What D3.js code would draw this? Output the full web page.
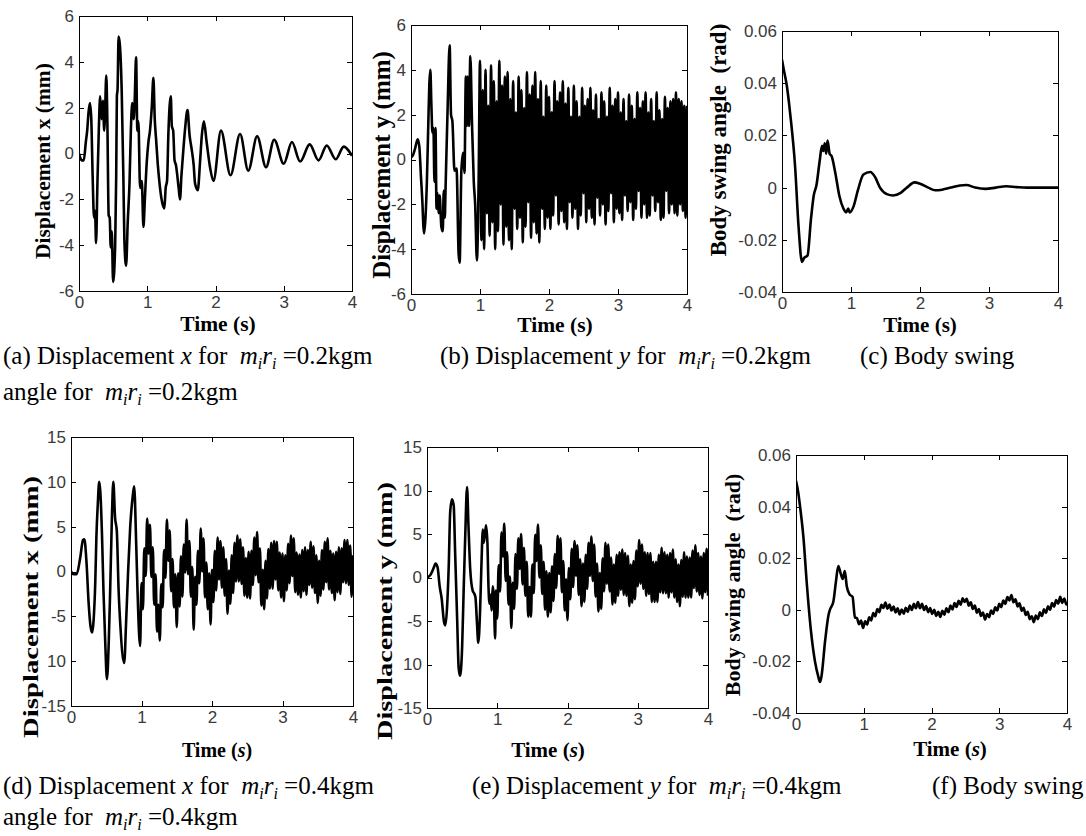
<!DOCTYPE html>
<html>
<head>
<meta charset="utf-8">
<script src="https://cdn.jsdelivr.net/npm/d3@7"></script>
<style>
  body { margin: 0; background: #fff; }
  svg text { white-space: pre; }
</style>
</head>
<body>
<svg id="fig" width="1086" height="836"></svg>
<script>
'use strict';

// ---- axis ticks / labels ----
const timeTicks = [0, 1, 2, 3, 4];
const dispTicks6 = [-6, -4, -2, 0, 2, 4, 6];
const dispLabels6 = ['-6', '-4', '-2', '0', '2', '4', '6'];
const dispTicks15 = [-15, -10, -5, 0, 5, 10, 15];
const dispLabels15 = ['-15', '10', '-5', '0', '5', '10', '15']; // "-10" prints clipped in the original
const angleTicks = [-0.04, -0.02, 0, 0.02, 0.04, 0.06];
const angleLabels = ['-0.04', '-0.02', '0', '0.02', '0.04', '0.06'];

// ---- series, [time s, value] ----
const dispX02 = [[0,0],[0.04,-0.3],[0.07,-0.3],[0.10,0.5],[0.12,1.0],[0.14,1.8],[0.16,2.2],[0.18,1.5],[0.20,-1.0],[0.22,-2.8],[0.235,-2.5],[0.25,-3.9],[0.27,-1.3],[0.29,1.0],[0.31,2.5],[0.33,1.5],[0.35,2.3],[0.37,1.0],[0.38,1.6],[0.40,3.4],[0.415,1.5],[0.435,-2.7],[0.45,-2.8],[0.465,-4.1],[0.48,-3.4],[0.50,-5.6],[0.53,-4.0],[0.545,-1.0],[0.555,2.5],[0.565,2.8],[0.58,5.1],[0.60,4.7],[0.626,2.7],[0.65,-1.0],[0.665,-3.8],[0.69,-4.9],[0.714,-3.0],[0.74,-1.3],[0.76,1.0],[0.78,2.2],[0.80,1.5],[0.817,2.4],[0.836,4.2],[0.855,1.0],[0.87,1.4],[0.895,-1.5],[0.92,-1.2],[0.944,-3.2],[0.965,-2.0],[0.99,-0.5],[1.017,0.5],[1.04,1.0],[1.066,2.0],[1.09,3.3],[1.11,1.5],[1.13,0.6],[1.155,-0.5],[1.18,-1.3],[1.21,-2.0],[1.25,-2.4],[1.27,-1.5],[1.29,-1.2],[1.31,0.9],[1.345,2.5],[1.36,1.2],[1.38,1.0],[1.40,-0.3],[1.42,-0.5],[1.46,-1.5],[1.48,-2.0],[1.50,-1.0],[1.52,-0.2],[1.555,1.1],[1.59,1.9],[1.62,0.8],[1.65,0.2],[1.68,-0.5],[1.70,-1.3],[1.74,-1.6],[1.775,-0.3],[1.80,0.8],[1.83,1.4],[1.87,0.5],[1.92,-0.6],[1.97,-1.2],[2.08,1.0],[2.22,-0.95],[2.36,0.85],[2.48,-0.75],[2.61,0.75],[2.74,-0.6],[2.86,0.6],[3.0,-0.45],[3.12,0.5],[3.24,-0.35],[3.38,0.4],[3.51,-0.3],[3.63,0.35],[3.76,-0.25],[3.88,0.3],[4.0,-0.1]];

const dispY02 = [[0,0.1],[0.03,0.2],[0.06,0.5],[0.097,0.9],[0.12,0.6],[0.145,-0.8],[0.165,-1.9],[0.18,-3.0],[0.19,-3.3],[0.21,-2.6],[0.23,-1.0],[0.25,1.5],[0.265,3.3],[0.28,4.0],[0.295,2.5],[0.31,1.2],[0.325,1.4],[0.34,-1.0],[0.355,1.4],[0.37,-2.2],[0.385,-1.5],[0.40,-2.4],[0.415,-1.6],[0.44,-3.0],[0.46,-3.2],[0.475,-1.4],[0.49,-2.6],[0.50,-1.4],[0.53,2.2],[0.56,5.1],[0.58,2.0],[0.60,1.7],[0.63,-0.5],[0.66,-0.4],[0.69,-4.2],[0.705,-4.6],[0.73,-0.5],[0.755,0.3],[0.775,-0.6],[0.795,3.7],[0.81,1.5],[0.82,3.7],[0.84,1.5],[0.86,4.6],[0.885,1.5],[0.91,-1.0],[0.93,-2.0],[0.955,-4.5],[0.98,-1.0],
  [1.00,4.4],[1.02,-3.6],[1.04,3.1],[1.06,-4.0],[1.08,4.0],[1.10,-2.4],[1.12,2.4],[1.14,-3.4],[1.16,4.2],[1.18,-2.8],[1.20,3.5],[1.22,-4.0],[1.24,2.6],[1.26,-3.2],[1.28,4.4],[1.30,-2.0],[1.32,3.3],[1.34,-3.8],[1.36,3.7],[1.38,-3.0],[1.40,3.9],[1.42,-3.6],[1.44,2.7],[1.46,-4.0],[1.48,3.5],[1.50,-2.2],[1.52,2.1],[1.54,-3.1],[1.56,3.7],[1.58,-2.6],[1.60,3.1],[1.62,-3.7],[1.64,2.3],[1.66,-3.0],[1.68,3.9],[1.70,-1.9],[1.72,2.9],[1.74,-3.5],[1.76,3.3],[1.78,-2.8],[1.80,3.9],[1.82,-3.3],[1.84,2.7],[1.86,-3.7],[1.88,3.5],[1.90,-2.2],[1.92,1.9],[1.94,-3.1],[1.96,3.3],[1.98,-2.6],
  [2.00,2.8],[2.02,-3.1],[2.04,2.1],[2.06,-2.5],[2.08,3.5],[2.10,-1.6],[2.12,2.6],[2.14,-2.9],[2.16,3.0],[2.18,-2.3],[2.20,3.5],[2.22,-2.8],[2.24,2.5],[2.26,-3.1],[2.28,3.2],[2.30,-1.9],[2.32,1.9],[2.34,-2.6],[2.36,3.3],[2.38,-2.2],[2.40,2.6],[2.42,-3.1],[2.44,1.9],[2.46,-2.5],[2.48,3.2],[2.50,-1.5],[2.52,2.4],[2.54,-2.8],[2.56,2.7],[2.58,-2.2],[2.60,3.2],[2.62,-2.6],[2.64,2.2],[2.66,-2.9],[2.68,2.9],[2.70,-1.7],[2.72,1.8],[2.74,-2.5],[2.76,3.0],[2.78,-2.0],[2.80,2.6],[2.82,-2.9],[2.84,1.9],[2.86,-2.3],[2.88,3.2],[2.90,-1.5],[2.92,2.4],[2.94,-2.8],[2.96,2.7],[2.98,-2.2],
  [3.00,3.0],[3.02,-2.4],[3.04,2.1],[3.06,-2.7],[3.08,2.7],[3.10,-1.6],[3.12,1.7],[3.14,-2.3],[3.16,2.9],[3.18,-1.9],[3.20,2.4],[3.22,-2.7],[3.24,1.8],[3.26,-2.2],[3.28,3.0],[3.30,-1.4],[3.32,2.3],[3.34,-2.6],[3.36,2.6],[3.38,-2.0],[3.40,3.0],[3.42,-2.6],[3.44,2.1],[3.46,-2.5],[3.48,2.7],[3.50,-1.6],[3.52,1.7],[3.54,-2.3],[3.56,3.0],[3.58,-1.9],[3.60,2.2],[3.62,-2.7],[3.64,1.8],[3.66,-2.6],[3.68,2.8],[3.70,-1.4],[3.72,2.3],[3.74,-2.4],[3.76,2.6],[3.78,-2.0],[3.80,2.7],[3.82,-2.4],[3.84,3.0],[3.86,-2.5],[3.88,2.7],[3.90,-2.0],[3.92,2.6],[3.94,-2.3],[3.96,2.4],[3.98,-2.6],[4.00,2.4]];

const angle02 = [[0,0.049],[0.02,0.046],[0.07,0.039],[0.12,0.028],[0.19,0.008],[0.24,-0.015],[0.29,-0.0285],[0.32,-0.027],[0.37,-0.026],[0.42,-0.012],[0.46,-0.003],[0.50,0.001],[0.545,0.010],[0.58,0.016],[0.60,0.014],[0.62,0.017],[0.64,0.013],[0.66,0.018],[0.69,0.013],[0.72,0.012],[0.77,0.006],[0.83,-0.003],[0.89,-0.008],[0.93,-0.0095],[0.96,-0.008],[0.98,-0.0095],[1.04,-0.007],[1.10,-0.001],[1.18,0.005],[1.28,0.006],[1.35,0.004],[1.42,0.0],[1.52,-0.0025],[1.61,-0.003],[1.72,-0.002],[1.81,0.0],[1.92,0.002],[2.0,0.0015],[2.12,0.0],[2.22,-0.001],[2.32,-0.0008],[2.45,0.0],[2.58,0.0008],[2.67,0.001],[2.80,0.0],[2.95,-0.0005],[3.10,0.0],[3.25,0.0005],[3.40,0.0002],[3.55,0.0],[4.0,0.0]];

const dispX04 = [[0,0],[0.04,-0.3],[0.08,-0.3],[0.13,1.5],[0.17,3.5],[0.19,3.6],[0.22,1.0],[0.25,-3.5],[0.275,-6.0],[0.30,-6.8],[0.32,-5.5],[0.345,-1.0],[0.36,3.8],[0.38,7.5],[0.40,10.0],[0.415,9.0],[0.44,4.0],[0.46,-2.0],[0.486,-8.0],[0.51,-12.0],[0.535,-8.0],[0.556,-2.0],[0.58,6.0],[0.60,10.0],[0.625,6.0],[0.65,4.5],[0.675,-2.0],[0.70,-6.0],[0.755,-10.2],[0.78,-6.0],[0.81,0.0],[0.84,5.0],[0.877,8.5],[0.896,9.5],[0.925,3.0],[0.943,-2.0],[0.98,-8.3],
  [1.00,-1.3],[1.02,-4.2],[1.04,2.6],[1.06,-0.5],[1.08,5.9],[1.10,2.0],[1.12,5.2],[1.14,-0.6],[1.16,2.7],[1.18,-3.7],[1.20,-0.3],[1.22,-6.7],[1.24,-3.7],[1.26,-7.7],[1.28,-1.4],[1.30,-4.0],[1.32,2.4],[1.34,-0.7],[1.36,5.8],[1.38,1.2],[1.40,4.6],[1.42,-2.2],[1.44,1.4],[1.46,-4.0],[1.48,-0.3],[1.50,-6.2],[1.52,-0.2],[1.54,-3.9],[1.56,1.7],[1.58,-2.8],[1.60,3.0],[1.62,-0.1],[1.64,5.8],[1.66,-0.3],[1.68,3.4],[1.70,-2.8],[1.72,0.5],[1.74,-6.5],[1.76,-0.6],[1.78,-3.7],[1.80,2.3],[1.82,-1.3],[1.84,4.8],[1.86,0.0],[1.88,3.7],[1.90,-2.9],[1.92,1.0],[1.94,-4.2],[1.96,-0.2],[1.98,-5.9],
  [2.00,0.2],[2.02,-3.4],[2.04,2.3],[2.06,-2.1],[2.08,3.8],[2.10,-0.9],[2.12,3.4],[2.14,-1.8],[2.16,2.7],[2.18,-2.7],[2.20,1.4],[2.22,-4.7],[2.24,0.1],[2.26,-3.6],[2.28,1.8],[2.30,-2.4],[2.32,3.2],[2.34,-1.1],[2.36,4.0],[2.38,-1.1],[2.40,3.6],[2.42,-1.4],[2.44,2.7],[2.46,-2.7],[2.48,1.5],[2.50,-2.9],[2.52,2.2],[2.54,-3.0],[2.56,2.3],[2.58,-1.5],[2.60,3.8],[2.62,-0.4],[2.64,4.4],[2.66,-1.2],[2.68,2.6],[2.70,-3.8],[2.72,0.2],[2.74,-4.2],[2.76,1.2],[2.78,-3.0],[2.80,2.5],[2.82,-1.9],[2.84,3.2],[2.86,-1.9],[2.88,3.4],[2.90,-0.9],[2.92,3.3],[2.94,-2.1],[2.96,2.1],[2.98,-2.9],
  [3.00,2.0],[3.02,-3.3],[3.04,1.8],[3.06,-2.1],[3.08,3.1],[3.10,-1.3],[3.12,4.0],[3.14,-0.5],[3.16,3.7],[3.18,-2.3],[3.20,2.1],[3.22,-2.6],[3.24,1.9],[3.26,-2.9],[3.28,2.4],[3.30,-2.2],[3.32,2.7],[3.34,-2.6],[3.36,2.4],[3.38,-1.5],[3.40,3.3],[3.42,-1.8],[3.44,2.8],[3.46,-2.4],[3.48,1.8],[3.50,-3.5],[3.52,1.2],[3.54,-2.7],[3.56,2.4],[3.58,-2.0],[3.60,3.3],[3.62,-1.2],[3.64,3.7],[3.66,-2.0],[3.68,2.3],[3.70,-2.4],[3.72,2.0],[3.74,-3.2],[3.76,2.2],[3.78,-2.3],[3.80,2.7],[3.82,-2.5],[3.84,2.6],[3.86,-1.2],[3.88,3.5],[3.90,-1.3],[3.92,3.5],[3.94,-1.5],[3.96,2.9],[3.98,-2.8],[4.00,1.8]];

const dispY04 = [[0,0],[0.05,0.3],[0.10,1.2],[0.12,1.6],[0.15,1.2],[0.18,-1.0],[0.21,-2.5],[0.24,-5.0],[0.26,-5.5],[0.285,-3.5],[0.31,1.5],[0.33,7.5],[0.355,9.0],[0.38,8.3],[0.40,3.0],[0.43,-5.0],[0.45,-10.3],[0.47,-11.3],[0.50,-8.0],[0.52,-2.0],[0.545,5.0],[0.57,10.4],[0.59,6.0],[0.615,1.0],[0.65,-1.5],[0.67,-1.8],[0.69,-2.3],[0.71,-5.0],[0.73,-7.5],[0.755,-4.0],[0.775,1.5],[0.795,5.5],[0.81,4.0],[0.84,6.0],[0.86,4.0],[0.875,-1.0],[0.89,-3.0],[0.905,-2.0],[0.92,-3.8],[0.935,-1.0],[0.95,-2.0],[0.97,-7.0],
  [0.98,-1.5],[1.00,-4.7],[1.02,1.4],[1.04,-1.6],[1.06,5.2],[1.08,2.4],[1.10,6.2],[1.12,-0.4],[1.14,2.9],[1.16,-3.1],[1.18,0.1],[1.20,-5.8],[1.22,-0.6],[1.24,-3.6],[1.26,2.7],[1.28,-1.3],[1.30,4.5],[1.32,1.0],[1.34,5.0],[1.36,-0.8],[1.38,3.4],[1.40,-2.1],[1.42,1.8],[1.44,-4.5],[1.46,-1.1],[1.48,-4.5],[1.50,1.5],[1.52,-1.8],[1.54,4.9],[1.56,1.9],[1.58,6.1],[1.60,0.0],[1.62,3.7],[1.64,-1.9],[1.66,1.8],[1.68,-3.7],[1.70,0.7],[1.72,-4.5],[1.74,0.5],[1.76,-4.0],[1.78,1.3],[1.80,-2.7],[1.82,2.7],[1.84,-1.2],[1.86,4.8],[1.88,0.4],[1.90,4.5],[1.92,-1.7],[1.94,1.9],[1.96,-3.8],[1.98,-0.2],
  [2.00,-4.9],[2.02,1.1],[2.04,-2.5],[2.06,3.3],[2.08,-1.1],[2.10,4.2],[2.12,0.2],[2.14,3.7],[2.16,-2.0],[2.18,2.1],[2.20,-3.3],[2.22,1.6],[2.24,-2.8],[2.26,2.6],[2.28,-1.3],[2.30,4.0],[2.32,0.2],[2.34,4.7],[2.36,-0.4],[2.38,3.8],[2.40,-2.2],[2.42,1.6],[2.44,-3.9],[2.46,0.5],[2.48,-3.6],[2.50,2.2],[2.52,-1.6],[2.54,4.0],[2.56,-0.7],[2.58,3.8],[2.60,-1.6],[2.62,2.3],[2.64,-3.1],[2.66,1.5],[2.68,-2.9],[2.70,2.6],[2.72,-2.1],[2.74,2.9],[2.76,-1.4],[2.78,3.2],[2.80,-2.0],[2.82,2.8],[2.84,-2.1],[2.86,2.5],[2.88,-3.3],[2.90,1.5],[2.92,-2.9],[2.94,1.9],[2.96,-2.5],[2.98,3.1],
  [3.00,-1.0],[3.02,4.3],[3.04,-0.7],[3.06,3.8],[3.08,-1.3],[3.10,2.9],[3.12,-2.1],[3.14,2.8],[3.16,-1.9],[3.18,2.8],[3.20,-2.8],[3.22,1.8],[3.24,-2.8],[3.26,1.8],[3.28,-2.8],[3.30,2.6],[3.32,-1.7],[3.34,3.4],[3.36,-1.8],[3.38,2.9],[3.40,-1.8],[3.42,2.6],[3.44,-2.3],[3.46,2.8],[3.48,-1.7],[3.50,3.2],[3.52,-2.3],[3.54,2.1],[3.56,-2.8],[3.58,1.5],[3.60,-3.3],[3.62,2.0],[3.64,-2.2],[3.66,2.9],[3.68,-2.3],[3.70,2.4],[3.72,-2.3],[3.74,2.3],[3.76,-2.3],[3.78,3.1],[3.80,-1.2],[3.82,3.7],[3.84,-1.6],[3.86,2.8],[3.88,-2.0],[3.90,2.4],[3.92,-2.4],[3.94,2.8],[3.96,-1.7],[3.98,3.3],[4.00,-2.1]];

const angle04 = [[0,0.050],[0.03,0.046],[0.06,0.040],[0.11,0.028],[0.16,0.010],[0.22,-0.008],[0.28,-0.020],[0.33,-0.026],[0.354,-0.028],[0.375,-0.026],[0.43,-0.012],[0.48,-0.002],[0.50,0.000],[0.55,0.003],[0.59,0.011],[0.624,0.017],[0.66,0.014],[0.69,0.012],[0.72,0.015],[0.75,0.009],[0.79,0.006],[0.835,0.005],[0.87,-0.003],[0.90,-0.0032],[0.93,-0.0056],[0.96,-0.0042],[0.99,-0.0070],[1.02,-0.0045],[1.05,-0.0057],[1.08,-0.0029],[1.11,-0.0041],[1.14,-0.0013],[1.17,-0.0025],[1.20,0.0003],[1.23,-0.0009],[1.26,0.0019],[1.29,0.0007],[1.32,0.0028],[1.35,0.0004],[1.38,0.0020],[1.41,-0.0003],[1.44,0.0013],[1.47,-0.0010],[1.50,0.0006],[1.53,-0.0018],[1.56,0.0001],[1.59,-0.0015],[1.62,0.0008],[1.65,-0.0008],[1.68,0.0016],[1.71,-0.0001],[1.74,0.0023],[1.77,0.0006],[1.80,0.0030],[1.83,0.0006],[1.86,0.0023],[1.89,-0.0001],[1.92,0.0015],[1.95,-0.0009],[1.98,0.0007],[2.01,-0.0016],[2.04,0.0000],[2.07,-0.0024],[2.10,-0.0008],[2.13,-0.0028],[2.16,-0.0004],[2.19,-0.0019],[2.22,0.0006],[2.25,-0.0009],[2.28,0.0016],[2.31,0.0001],[2.34,0.0026],[2.37,0.0011],[2.40,0.0035],[2.43,0.0020],[2.46,0.0045],[2.49,0.0030],[2.52,0.0043],[2.55,0.0016],[2.58,0.0029],[2.61,0.0003],[2.64,0.0016],[2.67,-0.0011],[2.70,0.0003],[2.73,-0.0024],[2.76,-0.0011],[2.79,-0.0038],[2.82,-0.0016],[2.85,-0.0029],[2.88,-0.0003],[2.91,-0.0016],[2.94,0.0010],[2.97,-0.0003],[3.00,0.0023],[3.03,0.0010],[3.06,0.0036],[3.09,0.0023],[3.12,0.0049],[3.15,0.0036],[3.18,0.0057],[3.21,0.0029],[3.24,0.0041],[3.27,0.0013],[3.30,0.0025],[3.33,-0.0004],[3.36,0.0008],[3.39,-0.0020],[3.42,-0.0008],[3.45,-0.0036],[3.48,-0.0025],[3.51,-0.0048],[3.54,-0.0022],[3.57,-0.0036],[3.60,-0.0010],[3.63,-0.0024],[3.66,0.0002],[3.69,-0.0012],[3.72,0.0014],[3.75,0.0000],[3.78,0.0026],[3.81,0.0012],[3.84,0.0038],[3.87,0.0024],[3.90,0.0050],[3.93,0.0027],[3.96,0.0044],[3.99,0.0021],[4.00,0.0030]];

// ---- texts ----
const yTitleDispX = 'Displacement x (mm)';
const yTitleDispY = 'Displacement y (mm)';
const yTitleAngle = 'Body swing angle  (rad)';

// caption pieces: [text, kind]  kind: n normal, it italic, sub italic subscript
const capA = [['(a) Displacement ', 'n'], ['x', 'it'], [' for  ', 'n'], ['m', 'it'], ['i', 'sub'], ['r', 'it'], ['i', 'sub'], [' =0.2kgm', 'n']];
const capB = [['(b) Displacement ', 'n'], ['y', 'it'], [' for  ', 'n'], ['m', 'it'], ['i', 'sub'], ['r', 'it'], ['i', 'sub'], [' =0.2kgm', 'n']];
const capC1 = [['(c) Body swing', 'n']];
const capC2 = [['angle for  ', 'n'], ['m', 'it'], ['i', 'sub'], ['r', 'it'], ['i', 'sub'], [' =0.2kgm', 'n']];
const capD = [['(d) Displacement ', 'n'], ['x', 'it'], [' for  ', 'n'], ['m', 'it'], ['i', 'sub'], ['r', 'it'], ['i', 'sub'], [' =0.4kgm', 'n']];
const capE = [['(e) Displacement ', 'n'], ['y', 'it'], [' for  ', 'n'], ['m', 'it'], ['i', 'sub'], ['r', 'it'], ['i', 'sub'], [' =0.4kgm', 'n']];
const capF1 = [['(f) Body swing', 'n']];
const capF2 = [['angle for  ', 'n'], ['m', 'it'], ['i', 'sub'], ['r', 'it'], ['i', 'sub'], [' =0.4kgm', 'n']];

const SERIF = '"Liberation Serif", "Times New Roman", serif';
const SANS = '"Liberation Sans", Arial, Helvetica, sans-serif';

const svg = d3.select('#fig');

// box = [left, top, right, bottom]; yt/xt = [x, y, font size, stretched length]
const panels = [
    { data: dispX02, yTicks: dispTicks6, yLabels: dispLabels6, yTitle: yTitleDispX,
      box: [79, 16, 352, 291], yt: [42, 161, 21.5], xt: [218, 331, 21.5], italicS: false },
    { data: dispY02, yTicks: dispTicks6, yLabels: dispLabels6, yTitle: yTitleDispY,
      box: [411, 25, 687, 294], yt: [381, 165, 25], xt: [555, 332, 21.5], italicS: false },
    { data: angle02, yTicks: angleTicks, yLabels: angleLabels, yTitle: yTitleAngle,
      box: [782, 31, 1058, 292], yt: [718, 140, 23], xt: [920, 332, 21], italicS: false },
    { data: dispX04, yTicks: dispTicks15, yLabels: dispLabels15, yTitle: yTitleDispX,
      box: [71, 437, 353, 706], yt: [30, 607, 22, 262], xt: [217, 757, 20], italicS: true },
    { data: dispY04, yTicks: dispTicks15, yLabels: dispLabels15, yTitle: yTitleDispY,
      box: [427, 447, 708, 708], yt: [384, 611, 22, 258], xt: [548, 757, 21], italicS: true },
    { data: angle04, yTicks: angleTicks, yLabels: angleLabels, yTitle: yTitleAngle,
      box: [796, 455, 1067, 713], yt: [732, 585, 22], xt: [950, 756, 21], italicS: true }
];

const styleAxis = (sel)=>{
    sel.attr('font-family', null).attr('font-size', null);
    sel.selectAll('path.domain').attr('stroke', '#000').attr('shape-rendering', 'crispEdges');
    sel.selectAll('line').attr('stroke', '#000').attr('shape-rendering', 'crispEdges');
    sel.selectAll('text')
        .attr('fill', '#3a3a3a')
        .style('font-family', SANS)
        .style('font-size', '17px');
};

const drawPanel = (p, k)=>{
    const [x0, y0, x1, y1] = p.box;
    const xScale = d3.scaleLinear().domain([0, 4]).range([x0, x1]);
    const yScale = d3.scaleLinear().domain(d3.extent(p.yTicks)).range([y1, y0]);

    const g = svg.append('g');

    g.append('clipPath').attr('id', 'clip' + k)
        .append('rect')
        .attr('x', x0).attr('y', y0)
        .attr('width', x1 - x0).attr('height', y1 - y0);

    const valueline = d3.line()
        .x(d => xScale(d[0]))
        .y(d => yScale(d[1]))
        .curve(d3.curveMonotoneX);

    g.append('path')
        .datum(p.data)
        .attr('clip-path', `url(#clip${k})`)
        .attr('fill', 'none')
        .attr('stroke', '#000')
        .attr('stroke-width', 2.6)
        .attr('stroke-linejoin', 'round')
        .attr('d', valueline);

    // box with inward ticks on all four sides
    g.append('g')
        .attr('transform', `translate(0,${y1})`)
        .call(d3.axisBottom(xScale).tickValues(timeTicks).tickFormat(d3.format('d'))
            .tickSizeInner(-5).tickSizeOuter(0).tickPadding(5))
        .call(styleAxis);

    g.append('g')
        .attr('transform', `translate(0,${y0})`)
        .call(d3.axisTop(xScale).tickValues(timeTicks).tickFormat(() => '')
            .tickSizeInner(-5).tickSizeOuter(0))
        .call(styleAxis);

    g.append('g')
        .attr('transform', `translate(${x0},0)`)
        .call(d3.axisLeft(yScale).tickValues(p.yTicks).tickFormat((d, i) => p.yLabels[i])
            .tickSizeInner(-5).tickSizeOuter(0).tickPadding(5))
        .call(styleAxis);

    g.append('g')
        .attr('transform', `translate(${x1},0)`)
        .call(d3.axisRight(yScale).tickValues(p.yTicks).tickFormat(() => '')
            .tickSizeInner(-5).tickSizeOuter(0))
        .call(styleAxis);

    // y title
    const yt = g.append('text')
        .attr('transform', `translate(${p.yt[0]},${p.yt[1]}) rotate(-90)`)
        .attr('text-anchor', 'middle')
        .attr('dy', '0.35em')
        .style('font-family', SERIF)
        .style('font-weight', 'bold')
        .style('font-size', p.yt[2] + 'px')
        .text(p.yTitle);
    if (p.yt[3]) yt.attr('textLength', p.yt[3]).attr('lengthAdjust', 'spacingAndGlyphs');

    // x title
    const xt = g.append('text')
        .attr('x', p.xt[0]).attr('y', p.xt[1])
        .attr('text-anchor', 'middle')
        .style('font-family', SERIF)
        .style('font-weight', 'bold')
        .style('font-size', p.xt[2] + 'px');
    xt.append('tspan').text('Time (');
    xt.append('tspan').style('font-style', p.italicS ? 'italic' : 'normal').text('s');
    xt.append('tspan').text(')');
};

panels.forEach(drawPanel);

// captions
const drawCaption = (pieces, x, y)=>{
    const t = svg.append('text')
        .attr('x', x).attr('y', y)
        .style('font-family', SERIF)
        .style('font-size', '25px')
        .attr('fill', '#000');
    let down = false;
    pieces.forEach(([txt, kind])=>{
        const s = t.append('tspan').text(txt);
        if (kind === 'sub') {
            s.style('font-style', 'italic').style('font-size', '16px');
            s.attr('dy', down ? 0 : 5);
            down = true;
        } else {
            if (kind === 'it') s.style('font-style', 'italic');
            if (down) { s.attr('dy', -5); down = false; }
        }
    });
};

drawCaption(capA, 3, 364);
drawCaption(capB, 440, 364);
drawCaption(capC1, 860, 364);
drawCaption(capC2, 3, 400);
drawCaption(capD, 3, 794);
drawCaption(capE, 472, 794);
drawCaption(capF1, 932, 794);
drawCaption(capF2, 3, 825);
</script>
</body>
</html>
